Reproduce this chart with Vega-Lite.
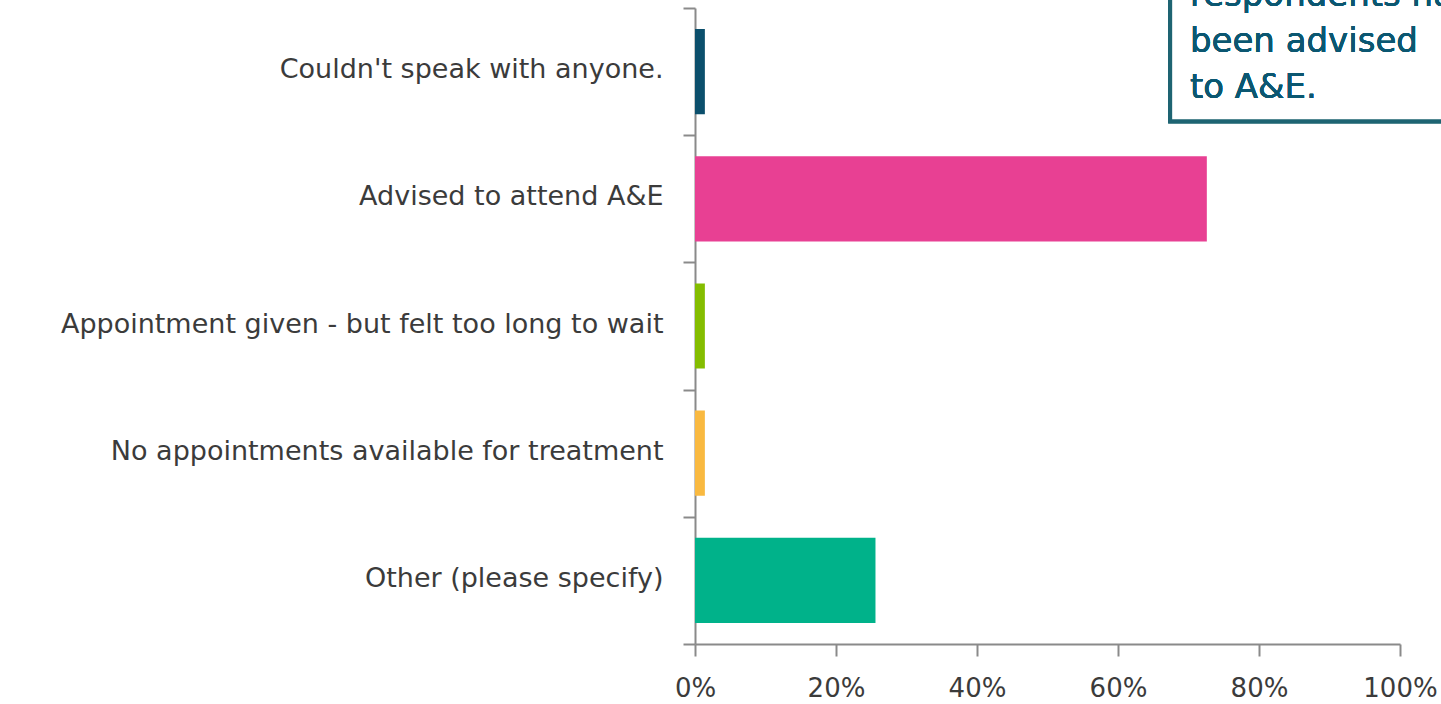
{
  "$schema": "https://vega.github.io/schema/vega-lite/v6.json",
  "width": 705,
  "height": 636,
  "autosize": {"type": "none"},
  "padding": {"left": 695, "top": 8, "right": 41, "bottom": 60},
  "background": "white",
  "config": {"view": {"stroke": null}, "font": "DejaVu Sans"},
  "data": {
    "values": [
      {"reason": "Couldn't speak with anyone.", "pct": 1.4},
      {"reason": "Advised to attend A&E", "pct": 72.6},
      {"reason": "Appointment given - but felt too long to wait", "pct": 1.4},
      {"reason": "No appointments available for treatment", "pct": 1.4},
      {"reason": "Other (please specify)", "pct": 25.6}
    ]
  },
  "layer": [
    {
      "mark": {"type": "bar", "height": {"band": 0.67}},
      "encoding": {
        "y": {
          "field": "reason",
          "type": "nominal",
          "sort": null,
          "scale": {"paddingInner": 0, "paddingOuter": 0},
          "axis": {
            "title": null,
            "tickBand": "extent",
            "tickSize": 12,
            "tickColor": "#8a8a8a",
            "tickWidth": 2,
            "domainColor": "#8a8a8a",
            "domainWidth": 2,
            "labelPadding": 20,
            "labelFontSize": 27,
            "labelColor": "#3b3b3b",
            "labelLimit": 0,
            "labelOffset": -2
          }
        },
        "x": {
          "field": "pct",
          "type": "quantitative",
          "scale": {"domain": [0, 100], "nice": false},
          "axis": {
            "title": null,
            "values": [0, 20, 40, 60, 80, 100],
            "labelExpr": "datum.value + '%'",
            "grid": false,
            "tickSize": 12,
            "tickColor": "#8a8a8a",
            "tickWidth": 2,
            "domainColor": "#8a8a8a",
            "domainWidth": 2,
            "labelPadding": 19,
            "labelFontSize": 26,
            "labelColor": "#3b3b3b",
            "labelFlush": false
          }
        },
        "color": {
          "field": "reason",
          "type": "nominal",
          "legend": null,
          "scale": {
            "domain": ["Couldn't speak with anyone.", "Advised to attend A&E", "Appointment given - but felt too long to wait", "No appointments available for treatment", "Other (please specify)"],
            "range": ["#0b4f6c", "#e84093", "#84bd00", "#f9b940", "#00b28a"]
          }
        }
      }
    },
    {
      "mark": {"type": "rect", "fill": "white", "stroke": "#1e6472", "strokeWidth": 4},
      "encoding": {
        "x": {"datum": 67.4, "type": "quantitative"},
        "x2": {"datum": 110},
        "y": {"datum": "Couldn't speak with anyone.", "type": "nominal", "bandPosition": -0.5},
        "y2": {"datum": "Couldn't speak with anyone.", "bandPosition": 0.89}
      }
    },
    {
      "mark": {"type": "text", "align": "left", "baseline": "alphabetic", "fontSize": 34, "color": "#0b5771", "lineHeight": 46},
      "encoding": {
        "x": {"datum": 70.2, "type": "quantitative"},
        "y": {"datum": "Couldn't speak with anyone.", "type": "nominal", "bandPosition": -0.016},
        "text": {"value": ["respondents had", "been advised", "to A&E."]}
      }
    }
  ]
}
